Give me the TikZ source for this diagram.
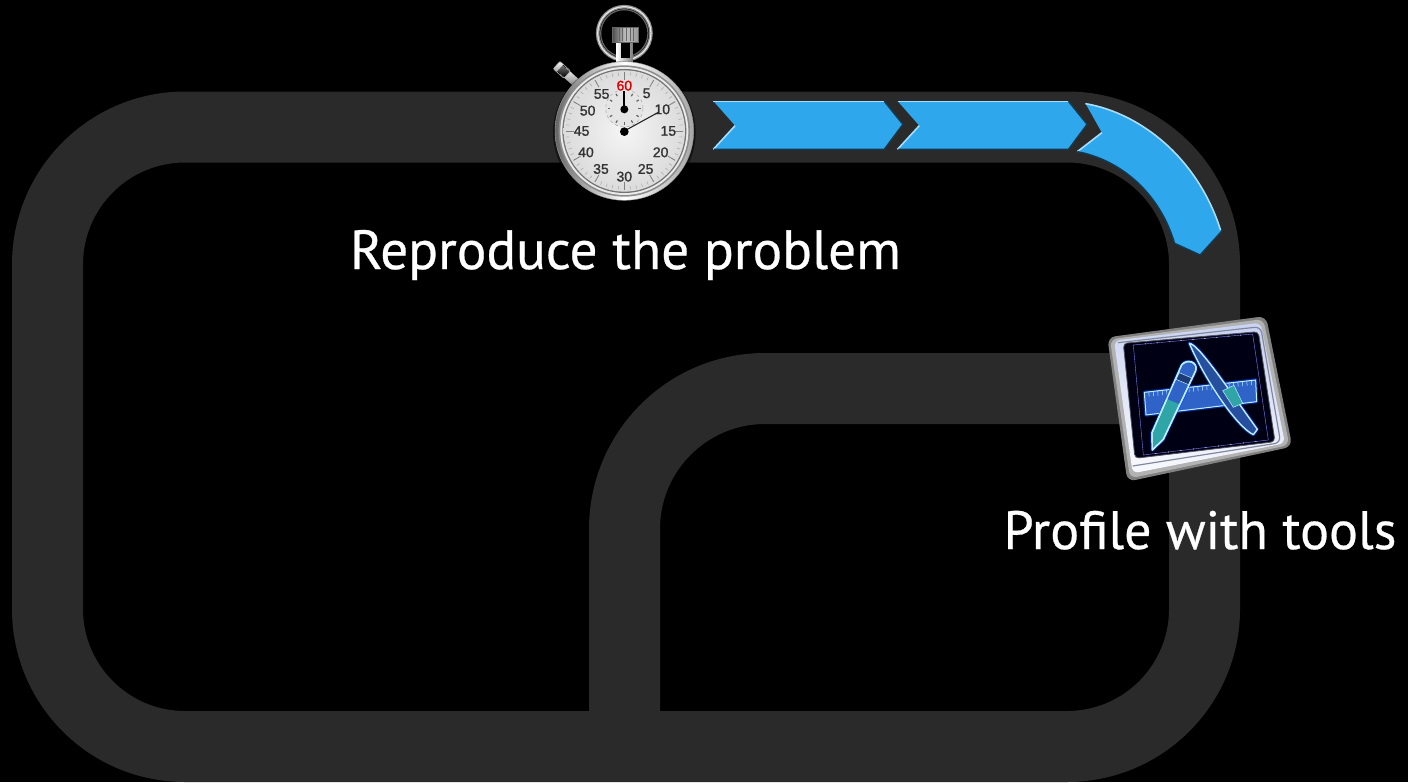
\documentclass[tikz,border=0pt]{standalone}
\usepackage{fontspec}
\setmainfont{PT Sans}[FakeBold=0.5]
\newfontfamily\dialfont{Liberation Sans}[FakeBold=1.2]
\usetikzlibrary{calc}
\definecolor{track}{HTML}{2A2A2A}
\definecolor{chev}{HTML}{2EA7EC}
\definecolor{chevlight}{HTML}{A9DDF7}
\definecolor{chevdark}{HTML}{123A52}
\definecolor{neon}{HTML}{BFEFFF}
\definecolor{neonblue}{HTML}{2F63C8}
\definecolor{teal}{HTML}{2FA5A8}
\definecolor{frame}{HTML}{C9D3F2}
\tikzset{
  trackline/.style={draw=track,line width=71pt},
  caption/.style={text=white,font=\fontsize{54}{60}\selectfont,inner sep=0pt,anchor=base},
  chevfill/.style={fill=chev},
  chevtop/.style={draw=chevlight,line width=1.6pt},
  chevlow/.style={draw=chevdark,line width=1.4pt},
  dialnum/.style={font=\dialfont\fontsize{14}{14}\selectfont,text=black!80,inner sep=0pt},
  neonline/.style={draw=neon,line width=1.4pt,line join=round},
  neonglow/.style={draw=blue!70!cyan,line width=3.4pt,line join=round,opacity=.55},
}
\begin{document}
\begin{tikzpicture}[x=1pt,y=-1pt]
\useasboundingbox[fill=black] (0,0) rectangle (1408,782);
% track
\draw[trackline,rounded corners=137.5pt] (47.5,400) -- (47.5,127) -- (1204.5,127) -- (1204.5,746.5) -- (47.5,746.5) -- cycle;
\draw[trackline,rounded corners=140.5pt] (1204.5,388.5) -- (624.5,388.5) -- (624.5,746.5);
% chevrons
\begin{scope}[shift={(700,80)},x=.351pt,y=-.3333pt]
  \foreach \p in {0,1}{
  \begin{scope}[xshift=\p*184.2pt]
  \path[chevfill] (38,63) -- (525,63) -- (578,133) -- (525,208) -- (38,208) -- (100,137) -- cycle;
  \draw[chevtop] (38,64) -- (525,64);
  \draw[chevtop] (38,208) -- (100,137);
  \draw[chevlow] (525,64) -- (578,133) -- (525,208) -- (40,208);
  \end{scope}}
  \path[chevfill] (1098,70) .. controls (1260,100) and (1420,240) .. (1485,455) -- (1425,525) -- (1352,490) .. controls (1310,340) and (1200,240) .. (1075,215) -- (1145,158) -- cycle;
  \draw[chevtop] (1098,71) .. controls (1260,100) and (1420,240) .. (1483,450);
  \draw[chevtop] (1075,215) -- (1145,158);
  \draw[chevlow] (1485,455) -- (1425,525) -- (1352,490) .. controls (1310,340) and (1200,240) .. (1075,215);
\end{scope}
% captions
\node[caption,font=\fontsize{55.2}{60}\selectfont] (reproduce) at (625.5,269) {Reproduce the problem};
\node[caption] (profile) at (1200,549) {Profile with tools};
% stopwatch
\begin{scope}[shift={(530,0)},x=.3333pt,y=-.3333pt]
  % pusher
  \begin{scope}[shift={(105,218)},rotate=-42]
    \path[top color=white,bottom color=black!50] (-8,-13) rectangle (48,13);
    \path[top color=black!55,bottom color=black] (-20,-12) rectangle (8,12);
    \path[top color=white,bottom color=black!40] (-34,-15) rectangle (-20,15);
    \draw[black!30,line width=.6pt,rounded corners=2pt] (-34,-15) rectangle (10,15);
  \end{scope}
  % ring
  \draw[draw=black!45,line width=3.6pt] (283,100) circle[radius=80];
  \draw[draw=black!10,line width=1.2pt] (283,100) circle[radius=80];
  \draw[draw=black!60,line width=1.2pt] (283,100) circle[radius=71];
  % neck and crown
  \path[left color=white,right color=black!50] (260,125) rectangle (307,190);
  \path[fill=black] (272,130) rectangle (300,175);
  \path[left color=black!70,right color=black!40,middle color=black!25,draw=black!60] (247,82) rectangle (325,126);
  \foreach \x in {256,267,...,320}{\draw[black!60,line width=.8pt] (\x,84) -- (\x,124);}
  % case
  \path[fill=black,fill opacity=.5] (283,398) circle[radius=214];
  \path[left color=black!60,right color=black!35,middle color=white,draw=black!40] (283,393) circle[radius=208];
  \path[fill=black!45] (283,393) circle[radius=197];
  \path[fill=white!92!black] (283,393) circle[radius=192];
  \path[fill=black!55] (283,393) circle[radius=186];
  % dial
  \path[inner color=white!96!black,outer color=black!14] (283,393) circle[radius=182];
  \foreach \a in {0,6,...,354}{\draw[black!35,line width=.5pt] (283,393) ++(\a:166) -- ++(\a:10);}
  \foreach \a in {0,30,...,330}{\draw[black!50,line width=.8pt] (283,393) ++(\a:152) -- ++(\a:24);}
  % subdial
  \draw[black!35,line width=.5pt,dashed,fill=white!90!black] (283,325) circle[radius=56];
  \foreach \a in {0,30,...,330}{\draw[black!60,line width=1.2pt] (283,325) ++(\a:42) -- ++(\a:8);}
  % numbers
  \node[dialnum,text=red!85!black] (n60) at (283,257) {60};
  \node[dialnum] (n55) at (215,282) {55};
  \node[dialnum] (n5) at (350,280) {5};
  \node[dialnum] (n50) at (173,332) {50};
  \node[dialnum] (n10) at (397,328) {10};
  \node[dialnum] (n45) at (155,393) {45};
  \node[dialnum] (n15) at (415,393) {15};
  \node[dialnum] (n40) at (168,457) {40};
  \node[dialnum] (n20) at (392,457) {20};
  \node[dialnum] (n35) at (213,507) {35};
  \node[dialnum] (n25) at (347,507) {25};
  \node[dialnum] (n30) at (283,530) {30};
  % hands
  \draw[black,line width=2pt] (283,325) -- (283,272);
  \path[fill=black] (283,328) circle[radius=12];
  \draw[black!85,line width=1.1pt] (283,393) -- (385,337);
  \path[fill=black] (283,395) circle[radius=13];
\end{scope}
% tools icon
\begin{scope}[shift={(1090,300)},x=.3333pt,y=-.3333pt]
  \path[fill=black!50,rounded corners=8pt] (52,112) -- (528,48) -- (607,440) -- (112,545) -- cycle;
  \path[fill=black!30,rounded corners=7pt] (60,118) -- (520,57) -- (598,435) -- (120,535) -- cycle;
  \path[top color=frame,bottom color=white!85!frame,shading angle=-8,rounded corners=6pt] (72,122) -- (512,68) -- (585,430) -- (128,520) -- cycle;
  \path[draw=black!35!frame,line width=1.2pt,rounded corners=6pt] (84,128) -- (512,80) -- (572,428) -- (128,498);
  \path[fill=black!92!blue,draw=black!60!frame,line width=.8pt,rounded corners=4pt] (100,130) -- (505,95) -- (555,425) -- (135,475) -- cycle;
  % grid frame
  \draw[draw=white!50!blue,line width=.4pt] (130,135) -- (488,102) -- (535,420) -- (160,465) -- cycle;
  \foreach \t in {.1,.2,...,.95}{
    \path[fill=white] ($(130,135)!\t!(488,102)$) circle[radius=1.6];
    \path[fill=white] ($(160,465)!\t!(535,420)$) circle[radius=1.6];
  }
  % ruler
  \draw[neonglow] (163,277) -- (497,240) -- (500,305) -- (168,345) -- cycle;
  \path[fill=neonblue,draw=neon,line width=1pt] (163,277) -- (497,240) -- (500,305) -- (168,345) -- cycle;
  \foreach \t in {.04,.08,...,.98}{
    \draw[neon,line width=.5pt] ($(163,277)!\t!(497,240)$) -- ++(1,14);
  }
  % brush (right stroke)
  \draw[neonglow] (298,130) .. controls (325,132) and (410,260) .. (502,388) -- (490,404) .. controls (440,380) and (345,240) .. (298,130) -- cycle;
  \path[fill=neonblue!80!black,neonline] (298,130) .. controls (325,132) and (410,260) .. (502,388) -- (490,404) .. controls (440,380) and (345,240) .. (298,130) -- cycle;
  \path[fill=teal,draw=neon,line width=.5pt] (398,272) -- (432,256) -- (458,310) -- (430,322) -- cycle;
  % pencil (left stroke)
  \draw[neonglow] (275,195) .. controls (290,175) and (325,185) .. (317,212) -- (220,418) -- (187,450) -- (186,398) -- cycle;
  \path[fill=teal,neonline] (275,195) .. controls (290,175) and (325,185) .. (317,212) -- (220,418) -- (187,450) -- (186,398) -- cycle;
  \path[fill=neonblue] (277,197) .. controls (292,180) and (322,188) .. (314,212) -- (268,312) -- (226,295) -- cycle;
  \path[fill=neonblue!60!black,draw=neon,line width=.5pt] (268,218) -- (305,234) -- (296,254) -- (258,238) -- cycle;
  \draw[neonline] (275,195) .. controls (290,175) and (325,185) .. (317,212) -- (220,418) -- (187,450) -- (186,398) -- cycle;
\end{scope}
\end{tikzpicture}
\end{document}
